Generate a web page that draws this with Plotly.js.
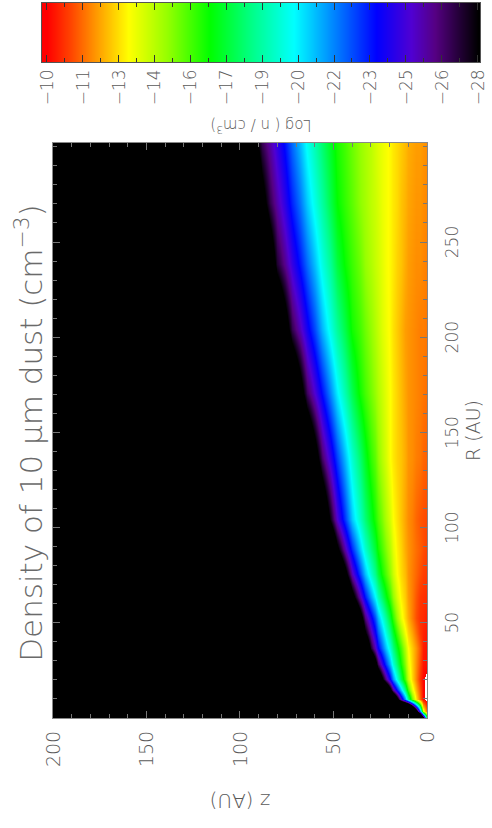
<!DOCTYPE html>
<html><head><meta charset="utf-8">
<script src="https://cdn.plot.ly/plotly-3.0.1.min.js"></script>
<style>
html,body{margin:0;padding:0;background:#fff;overflow:hidden;width:492px;height:828px;}
#wrap{position:absolute;left:0;top:0;width:828px;height:492px;transform-origin:0 0;transform:translate(0px,828px) rotate(-90deg);}
#chart{width:828px;height:492px;}
</style></head><body>
<div id="wrap"><div id="chart"></div></div>
<script>
// Radius grid (AU) and height grid (AU)
const radiusAU = [0, 3, 9.5, 14, 20, 28, 36, 44, 52, 63, 75, 88, 104, 136, 170, 204, 238, 270, 302];
const heightAU = [0,2,4,6,8, 10,12,14,16,18, 20,22,24,26,28, 30,33,36,40,44, 48,52,56,60,64, 68,72,76,80,84, 88,92,96,100,200];

// log10 density (cm^-3) read along each radius, one value per height above
const logN_R0   = [-16,-28,-38,-45,-45, -45,-45,-45,-45,-45, -45,-45,-45,-45,-45, -45,-45,-45,-45,-45, -45,-45,-45,-45,-45, -45,-45,-45,-45,-45, -45,-45,-45,-45,-45];
const logN_R3   = [-11.0,-14.0,-22.0,-30,-38, -45,-45,-45,-45,-45, -45,-45,-45,-45,-45, -45,-45,-45,-45,-45, -45,-45,-45,-45,-45, -45,-45,-45,-45,-45, -45,-45,-45,-45,-45];
const logN_R9   = [-9.7,-10.1,-11.4,-13.1,-15.5, -18.6,-21.8,-25.0,-28.9,-32.8, -36.7,-40.6,-44.5,-45,-45, -45,-45,-45,-45,-45, -45,-45,-45,-45,-45, -45,-45,-45,-45,-45, -45,-45,-45,-45,-45];
const logN_R14  = [-9.7,-10.1,-11.1,-12.4,-13.9, -16.1,-18.5,-21.0,-23.5,-26.0, -28.9,-32.1,-35.3,-38.5,-41.7, -45,-45,-45,-45,-45, -45,-45,-45,-45,-45, -45,-45,-45,-45,-45, -45,-45,-45,-45,-45];
const logN_R20  = [-9.8,-10.1,-10.7,-11.8,-12.9, -14.3,-16.0,-17.8,-19.8,-21.8, -23.8,-25.9,-28.4,-31.2,-34.0, -36.8,-41.0,-45,-45,-45, -45,-45,-45,-45,-45, -45,-45,-45,-45,-45, -45,-45,-45,-45,-45];
const logN_R28  = [-10.15,-10.3,-11.0,-11.9,-12.8, -13.8,-15.2,-16.6,-18.2,-19.7, -21.3,-22.9,-24.7,-26.7,-29.3, -32.1,-36.3,-40.5,-45,-45, -45,-45,-45,-45,-45, -45,-45,-45,-45,-45, -45,-45,-45,-45,-45];
const logN_R36  = [-10.2,-10.4,-11.2,-12.0,-12.7, -13.4,-14.6,-15.9,-17.1,-18.4, -19.7,-21.0,-22.4,-23.8,-25.5, -27.3,-31.4,-35.4,-40.8,-45, -45,-45,-45,-45,-45, -45,-45,-45,-45,-45, -45,-45,-45,-45,-45];
const logN_R44  = [-10.3,-10.5,-10.8,-11.5,-12.2, -12.8,-13.6,-14.8,-16.0,-17.3, -18.5,-19.8,-21.2,-22.5,-24.0, -25.6,-28.3,-31.9,-36.7,-41.5, -45,-45,-45,-45,-45, -45,-45,-45,-45,-45, -45,-45,-45,-45,-45];
const logN_R52  = [-10.4,-10.6,-10.7,-11.1,-11.7, -12.3,-12.9,-13.7,-14.9,-16.2, -17.4,-18.7,-20.0,-21.3,-22.7, -24.1,-26.3,-29.4,-33.5,-37.6, -41.7,-45,-45,-45,-45, -45,-45,-45,-45,-45, -45,-45,-45,-45,-45];
const logN_R63  = [-10.6,-10.7,-10.8,-11.2,-11.7, -12.1,-12.7,-13.2,-14.0,-15.0, -16.0,-17.0,-18.1,-19.2,-20.4, -21.6,-23.5,-25.6,-29.0,-33.0, -37.0,-41.0,-45,-45,-45, -45,-45,-45,-45,-45, -45,-45,-45,-45,-45];
const logN_R75  = [-10.8,-10.9,-11.1,-11.4,-11.7, -12.0,-12.5,-12.9,-13.4,-14.2, -15.0,-15.8,-16.6,-17.6,-18.6, -19.6,-21.2,-22.9,-25.5,-28.9, -32.3,-35.7,-39.1,-42.5,-45, -45,-45,-45,-45,-45, -45,-45,-45,-45,-45];
const logN_R88  = [-10.9,-11.1,-11.3,-11.5,-11.75, -12.0,-12.3,-12.8,-13.2,-13.8, -14.5,-15.2,-15.9,-16.6,-17.5, -18.3,-19.6,-21.0,-23.2,-25.6, -28.5,-31.9,-35.3,-38.7,-42.1, -45,-45,-45,-45,-45, -45,-45,-45,-45,-45];
const logN_R104 = [-11.0,-11.1,-11.2,-11.4,-11.7, -11.9,-12.2,-12.6,-13.0,-13.4, -14.0,-14.6,-15.3,-15.9,-16.5, -17.2,-18.3,-19.4,-21.0,-23.0, -25.2,-27.8,-31.0,-34.2,-37.4, -40.6,-43.8,-45,-45,-45, -45,-45,-45,-45,-45];
const logN_R136 = [-11.3,-11.4,-11.6,-11.7,-11.9, -12.0,-12.3,-12.6,-12.8,-13.1, -13.4,-14.0,-14.5,-15.1,-15.7, -16.2,-17.2,-18.2,-19.6,-21.2, -22.9,-24.7,-26.6,-29.2,-32.0, -34.8,-37.6,-40.4,-43.2,-45, -45,-45,-45,-45,-45];
const logN_R170 = [-11.5,-11.6,-11.7,-11.8,-11.9, -12.0,-12.2,-12.5,-12.8,-13.1, -13.4,-13.8,-14.2,-14.6,-15.0, -15.4,-16.0,-16.6,-17.8,-19.1, -20.5,-22.0,-23.6,-25.1,-26.7, -29.2,-31.8,-34.4,-37.0,-39.6, -42.2,-44.8,-45,-45,-45];
const logN_R204 = [-11.6,-11.7,-11.7,-11.8,-11.9, -12.0,-12.1,-12.4,-12.7,-13.0, -13.3,-13.6,-13.9,-14.3,-14.6, -15.0,-15.5,-16.0,-16.6,-17.7, -18.8,-20.0,-21.3,-22.7,-24.1, -25.5,-26.9,-29.3,-31.8,-34.3, -36.8,-39.3,-41.8,-44.3,-45];
const logN_R238 = [-11.7,-11.8,-11.9,-11.9,-12.0, -12.1,-12.3,-12.6,-12.8,-13.1, -13.3,-13.5,-13.8,-14.1,-14.3, -14.6,-15.0,-15.5,-16.1,-16.7, -17.6,-18.8,-19.9,-21.1,-22.3, -23.5,-24.7,-26.0,-27.3,-30.0, -32.7,-35.4,-38.1,-40.8,-45];
const logN_R270 = [-11.8,-11.9,-12.0,-12.0,-12.1, -12.2,-12.4,-12.6,-12.9,-13.1, -13.3,-13.5,-13.7,-14.0,-14.2, -14.4,-14.8,-15.1,-15.7,-16.2, -16.8,-17.8,-18.9,-19.9,-21.0, -22.2,-23.3,-24.5,-25.7,-26.9, -29.0,-31.5,-34.0,-36.5,-45];
const logN_R302 = [-11.9,-12.0,-12.1,-12.1,-12.2, -12.3,-12.5,-12.7,-12.9,-13.1, -13.3,-13.5,-13.7,-13.9,-14.1, -14.4,-14.7,-15.0,-15.5,-16.0, -16.5,-17.3,-18.2,-19.1,-20.1, -21.2,-22.3,-23.5,-24.6,-25.7, -26.8,-28.7,-31.0,-33.3,-45];

// Axis ticks
const rTickVals = [50, 100, 150, 200, 250];
const rTickText = ['50', '100', '150', '200', '250'];
const zTickVals = [0, 50, 100, 150, 200];
const zTickText = ['0', '50', '100', '150', '200'];
const cbTickVals = [-10, -11.5, -13, -14.5, -16, -17.5, -19, -20.5, -22, -23.5, -25, -26.5, -28];
const cbTickText = ['\u221210','\u221211','\u221213','\u221214','\u221216','\u221217','\u221219','\u221220','\u221222','\u221223','\u221225','\u221226','\u221228'];

// Colour table (value -> colour)
const paletteVals = [-28, -27.2, -26.2, -25.2, -23.75, -22.0, -20.3, -18.6, -16.8, -15.0, -13.4, -12.2, -11.0, -10.0];
const paletteCols = ['rgb(0,0,0)','rgb(35,0,55)','rgb(85,0,130)','rgb(80,0,210)','rgb(0,0,255)','rgb(0,130,255)','rgb(0,255,255)','rgb(0,255,140)','rgb(0,255,0)','rgb(150,255,0)','rgb(255,255,0)','rgb(255,165,0)','rgb(255,70,0)','rgb(255,0,0)'];
const cbRange = [-28, -10];

const columns = [logN_R0, logN_R3, logN_R9, logN_R14, logN_R20, logN_R28, logN_R36, logN_R44, logN_R52, logN_R63, logN_R75, logN_R88, logN_R104, logN_R136, logN_R170, logN_R204, logN_R238, logN_R270, logN_R302];
const zMatrix = heightAU.map((_, i) => columns.map(col => col[i]));

const mainMax = -9.9;
const mainScale = paletteVals.map((v, k) => [(v - cbRange[0]) / (mainMax - cbRange[0]), paletteCols[k]]);
mainScale.push([0.995, 'rgb(255,255,255)'], [1, 'rgb(255,255,255)']);
const barScale = paletteVals.map((v, k) => [(v - cbRange[0]) / (cbRange[1] - cbRange[0]), paletteCols[k]]);

const txt = '#5a5a5a';
const fam = 'DejaVu Sans, Verdana, sans-serif';
const lite = 200;

const traces = [
  {type:'heatmap', x: radiusAU, y: heightAU, z: zMatrix, zsmooth:'best',
   zmin: cbRange[0], zmax: mainMax, colorscale: mainScale, showscale:false, hoverinfo:'skip'},
  {type:'heatmap', x:[0,1], y: cbRange, z:[[cbRange[0],cbRange[0]],[cbRange[1],cbRange[1]]], zsmooth:'best',
   zmin: cbRange[0], zmax: cbRange[1], colorscale: barScale, showscale:false, hoverinfo:'skip',
   xaxis:'x2', yaxis:'y2'}
];

const tickCol = '#777';
const layout = {
  width: 828, height: 492,
  margin: {l:0, r:0, t:0, b:0},
  paper_bgcolor:'#fff', plot_bgcolor:'#000',
  font: {family: fam, color: txt, size: 17, weight: lite},
  showlegend:false,
  title: {text:'Density of 10 \u03bcm dust (cm<sup>\u22123</sup>)', x:0.477, xanchor:'center', y:0.937, yanchor:'middle',
          font:{size:31, color:'#6a6a6a', family:fam, weight:lite}},
  xaxis: {domain:[0.13285, 0.82729], anchor:'y', range:[0, 302], automargin:false,
          tickmode:'array', tickvals:rTickVals, ticktext:rTickText,
          ticks:'inside', ticklen:7, tickwidth:1, tickcolor:tickCol,
          minor:{ticks:'inside', ticklen:4, tickmode:'linear', tick0:0, dtick:10, tickcolor:tickCol, showgrid:false},
          showline:true, linecolor:'#888', mirror:'ticks', showgrid:false, zeroline:false,
          ticklabelstandoff:10, tickfont:{size:17, color:txt, weight:lite},
          title:{text:'R (AU)', font:{size:19, color:txt, weight:lite}, standoff:4}},
  yaxis: {domain:[0.13211, 0.89228], anchor:'x', range:[0, 200], automargin:false,
          tickmode:'array', tickvals:zTickVals, ticktext:zTickText,
          ticks:'inside', ticklen:7, tickwidth:1, tickcolor:tickCol,
          minor:{ticks:'inside', ticklen:4, tickmode:'linear', tick0:0, dtick:10, tickcolor:tickCol, showgrid:false},
          showline:true, linecolor:'#888', mirror:'ticks', showgrid:false, zeroline:false,
          ticklabelstandoff:8, tickfont:{size:19, color:txt, weight:lite},
          title:{text:'z (AU)', font:{size:20, color:txt, weight:lite}, standoff:20}},
  xaxis2: {domain:[0.92512, 0.99638], anchor:'y2', range:[0,1], automargin:false,
           showticklabels:false, ticks:'', showline:true, linecolor:'#555', mirror:true,
           showgrid:false, zeroline:false},
  yaxis2: {domain:[0.0244, 0.9146], anchor:'x2', side:'left', range:[-28.1, -9.8], automargin:false,
           tickmode:'array', tickvals:cbTickVals, ticktext:cbTickText,
           ticks:'inside', ticklen:7, tickwidth:1, tickcolor:'#333',
           minor:{ticks:'inside', ticklen:4, tickmode:'linear', tick0:-10, dtick:0.75, tickcolor:'#333', showgrid:false},
           showline:true, linecolor:'#555', mirror:'ticks', showgrid:false, zeroline:false,
           ticklabelstandoff:3, tickfont:{size:17, color:txt, weight:lite},
           title:{text:'Log ( n / cm<sup>3</sup>)', font:{size:15, color:txt, weight:lite}, standoff:10}}
};

Plotly.newPlot('chart', traces, layout, {displayModeBar:false, staticPlot:true});
</script></body></html>
